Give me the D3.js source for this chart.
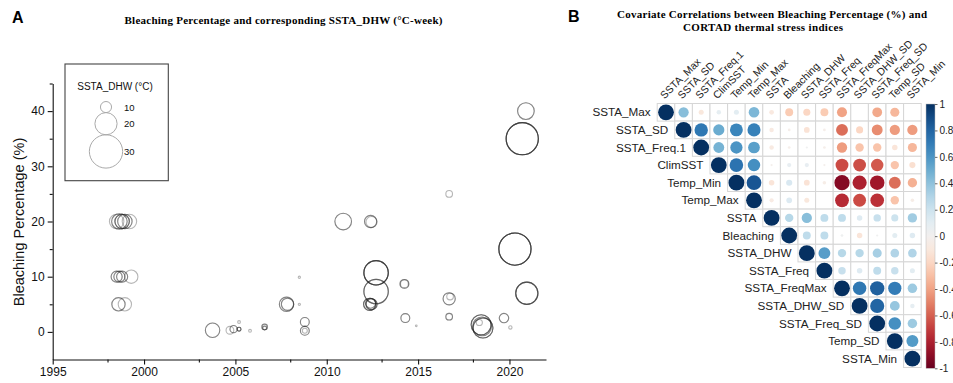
<!DOCTYPE html>
<html><head><meta charset="utf-8">
<script src="https://cdn.jsdelivr.net/npm/d3@7"></script>
<style>body{margin:0;background:#fff}svg{display:block}</style>
</head><body>
<svg id="chart" width="953" height="383"></svg>
<script>
// ---------- Panel A data ----------
const sampleYear = [1998.5,1998.65,1998.8,1998.95,1999.2, 1998.5,1998.65,1998.8,1999.3, 1998.6,1998.95,
  2003.75,2004.7,2004.9,2005.2,2005.2,2005.8,2006.6,2006.6, 2007.8,2007.85, 2008.5,2008.5, 2008.8,2008.8,2008.8,
  2010.9, 2012.4,2012.45, 2012.7,2012.7, 2012.35,2012.45,2012.4, 2014.25,2014.25,2014.3,2014.9,
  2016.7,2016.7,2016.75,2016.7, 2018.45,2018.55,2018.5,2018.35, 2019.7,2020.05, 2020.3,2020.7,2020.9,2020.95];
const bleachingPct = [20,20,20,20,20, 10,10,10,10, 5,5,
  0.3,0.3,0.5,0.5,1.8,0.2,0.9,0.7, 5,5, 9.9,5, 1.8,0.2,0.2,
  20, 20,19.9, 10.7,7.3, 5,5,5.2, 8.7,8.7,2.5,1.1,
  25,6,6.4,2.75, 1.3,0.7,1,1.7, 2.5,0.8, 15,35,40,7];
const dhwValue = [13,14,13,13,13, 10,10,10,12, 12,12,
  13,7,6.5,3.5,2.5,2.5,5,3.5, 13,11, 2,2, 8,8,4.5,
  15, 11,10, 22,22, 11,10,9, 8,7,8,1.5,
  6,11,6,6, 18,18,17,5.5, 8.5,3, 29,29,15,20];
const recordCount = [1,2,3,2,1, 2,2,2,1, 2,1,
  2,1,2,3,1,1,2,2, 2,2, 1,1, 2,2,1,
  2, 2,1, 5,3, 3,3,2, 2,1,2,1,
  1,2,1,2, 3,3,2,1, 2,1, 5,5,2,4];
const xTickValues = [1995,2000,2005,2010,2015,2020];
const xMinorTicks = [1998,2003,2008,2013,2018];
const yTickValues = [0,10,20,30,40];
const yMinorTicks = [5,15,25,35,45];
const legendValues = [10,20,30];

// ---------- Panel B data ----------
const variables = ["SSTA_Max","SSTA_SD","SSTA_Freq.1","ClimSST","Temp_Min","Temp_Max","SSTA","Bleaching",
  "SSTA_DHW","SSTA_Freq","SSTA_FreqMax","SSTA_DHW_SD","SSTA_Freq_SD","Temp_SD","SSTA_Min"];
// upper triangle, row i holds correlations with columns i+1 .. end
const corrUpper = [
  [0.42,-0.1,0.08,0.1,0.45,-0.09,-0.25,-0.2,-0.25,-0.4,0.0,-0.38,-0.33,0.0],
  [0.72,0.5,0.66,0.68,-0.08,-0.03,-0.13,-0.03,-0.56,-0.2,-0.47,-0.42,-0.42],
  [0.47,0.6,0.55,-0.08,-0.03,0.02,-0.03,-0.42,-0.28,-0.28,-0.12,-0.33],
  [0.74,0.62,-0.02,0.07,0.07,-0.02,-0.66,-0.65,-0.62,-0.28,-0.15],
  [0.86,-0.12,0.15,-0.13,-0.05,-0.92,-0.8,-0.84,-0.56,-0.35],
  [-0.07,0.13,-0.1,0.0,-0.76,-0.66,-0.74,-0.28,-0.05],
  [0.28,0.42,0.25,0.25,0.12,0.22,0.2,0.35],
  [0.25,0.25,0.03,-0.12,0.02,0.1,0.12],
  [0.56,0.28,0.28,0.33,0.3,0.3],
  [0.22,0.12,0.25,0.22,0.1],
  [0.72,0.82,0.7,0.36],
  [0.8,0.38,0.08],
  [0.62,0.36],
  [0.57]
];
const colorbarTicks = [1,0.8,0.6,0.4,0.2,0,-0.2,-0.4,-0.6,-0.8,-1];

const svg = d3.select("#chart");
const sans = "'Liberation Sans', Arial, sans-serif";
const serif = "'Liberation Serif', 'Times New Roman', serif";

// ================= Panel A =================
const x = d3.scaleLinear().domain([1995, 2022]).range([52.7, 546]);
const y = d3.scaleLinear().domain([-5, 45]).range([359.5, 83.5]);
const rSize = d3.scaleLinear().domain([0, 30]).range([0, 16.65]);

svg.append("text").attr("x", 12).attr("y", 23).attr("font-family", sans)
  .attr("font-weight", "bold").attr("font-size", 16).text("A");
svg.append("text").attr("x", 283.5).attr("y", 24).attr("text-anchor", "middle")
  .attr("font-family", serif).attr("font-weight", "bold").attr("font-size", 11)
  .attr("textLength", 318).attr("lengthAdjust", "spacing")
  .text("Bleaching Percentage and corresponding SSTA_DHW (°C-week)");

const gA = svg.append("g");
gA.append("g").attr("transform", `translate(0,${y(-5)})`)
  .call(d3.axisBottom(x).tickValues(xTickValues).tickFormat(d3.format("d")).tickSize(5).tickSizeOuter(0));
gA.append("g").attr("transform", `translate(0,${y(-5)})`)
  .call(d3.axisBottom(x).tickValues(xMinorTicks).tickFormat("").tickSize(3).tickSizeOuter(0))
  .select(".domain").remove();
gA.append("g").attr("transform", `translate(${x(1995)},0)`)
  .call(d3.axisLeft(y).tickValues(yTickValues).tickFormat(d3.format("d")).tickSize(5).tickSizeOuter(0));
gA.append("g").attr("transform", `translate(${x(1995)},0)`)
  .call(d3.axisLeft(y).tickValues(yMinorTicks).tickFormat("").tickSize(3).tickSizeOuter(0))
  .select(".domain").remove();
gA.selectAll(".tick text").attr("font-family", sans).attr("font-size", 12).attr("fill", "#111");
gA.selectAll(".domain, .tick line").attr("stroke", "#111").attr("stroke-width", 1.1);

svg.append("text").attr("transform", `translate(24,222) rotate(-90)`)
  .attr("text-anchor", "middle").attr("font-family", sans).attr("font-size", 14.5).attr("fill", "#111")
  .text("Bleaching Percentage (%)");

const recs = [];
sampleYear.forEach((yr, i) => {
  for (let k = 0; k < recordCount[i]; k++) recs.push({ year: yr, pct: bleachingPct[i], dhw: dhwValue[i] });
});
gA.append("g").selectAll("circle").data(recs).join("circle")
  .attr("cx", d => x(d.year)).attr("cy", d => y(d.pct)).attr("r", d => rSize(d.dhw))
  .attr("fill", "none").attr("stroke", "#222").attr("stroke-opacity", 0.33).attr("stroke-width", 1.1);

// legend
const lg = svg.append("g");
lg.append("rect").attr("x", 65).attr("y", 64).attr("width", 103.3).attr("height", 116.7)
  .attr("fill", "#fff").attr("stroke", "#444").attr("stroke-width", 1.1);
lg.append("text").attr("x", 115).attr("y", 90).attr("text-anchor", "middle")
  .attr("font-family", sans).attr("font-size", 10).attr("fill", "#111").text("SSTA_DHW (°C)");
let legTop = 101.5;
legendValues.forEach(v => {
  const r = rSize(v);
  const cy = legTop + r;
  lg.append("circle").attr("cx", 106).attr("cy", cy).attr("r", r)
    .attr("fill", "none").attr("stroke", "#aaa").attr("stroke-width", 1);
  lg.append("text").attr("x", 124).attr("y", cy + 3.5).attr("font-family", sans)
    .attr("font-size", 9.5).attr("fill", "#111").text(v);
  legTop = cy + r;
});

// ================= Panel B =================
svg.append("text").attr("x", 568).attr("y", 22).attr("font-family", sans)
  .attr("font-weight", "bold").attr("font-size", 16).text("B");
svg.append("text").attr("x", 772).attr("y", 18).attr("text-anchor", "middle")
  .attr("font-family", serif).attr("font-weight", "bold").attr("font-size", 11)
  .attr("textLength", 310).attr("lengthAdjust", "spacing")
  .text("Covariate Correlations between Bleaching Percentage (%) and");
svg.append("text").attr("x", 763).attr("y", 30.5).attr("text-anchor", "middle")
  .attr("font-family", serif).attr("font-weight", "bold").attr("font-size", 11)
  .attr("textLength", 160).attr("lengthAdjust", "spacing")
  .text("CORTAD thermal stress indices");

const cell = 17.6, gx = 657.2, gy = 103.5;
const n = variables.length;
const xb = d3.scaleBand().domain(variables).range([gx, gx + cell * n]);
const yb = d3.scaleBand().domain(variables).range([gy, gy + cell * n]);
const rc = d3.scaleSqrt().domain([0, 1]).range([0, cell * 0.45]);
const col = v => d3.interpolateRdBu((v + 1) / 2);

const cells = [];
variables.forEach((vi, i) => variables.forEach((vj, j) => {
  if (j >= i) cells.push({ row: vi, col: vj, r: i === j ? 1 : corrUpper[i][j - i - 1] });
}));
const gB = svg.append("g");
gB.selectAll("rect.cell").data(cells).join("rect").attr("class", "cell")
  .attr("x", d => xb(d.col)).attr("y", d => yb(d.row))
  .attr("width", xb.bandwidth()).attr("height", yb.bandwidth())
  .attr("fill", "#fff").attr("stroke", "#d6d6d6").attr("stroke-width", 1);
gB.selectAll("circle").data(cells).join("circle")
  .attr("cx", d => xb(d.col) + xb.bandwidth() / 2).attr("cy", d => yb(d.row) + yb.bandwidth() / 2)
  .attr("r", d => rc(Math.abs(d.r))).attr("fill", d => col(d.r));

gB.selectAll("text.rowlab").data(variables).join("text").attr("class", "rowlab")
  .attr("x", d => xb(d) - 6.5).attr("y", d => yb(d) + yb.bandwidth() / 2)
  .attr("dy", "0.35em").attr("text-anchor", "end")
  .attr("font-family", sans).attr("font-size", 11.7).attr("fill", "#222").text(d => d);
gB.selectAll("text.collab").data(variables).join("text").attr("class", "collab")
  .attr("transform", d => `translate(${xb(d) + xb.bandwidth() / 2 - 1.5},${gy - 4}) rotate(-45)`)
  .attr("font-family", sans).attr("font-size", 10.5).attr("fill", "#222").text(d => d);

// colorbar
const cbar = d3.scaleLinear().domain([-1, 1]).range([368.3, 104]);
const defs = svg.append("defs");
const grad = defs.append("linearGradient").attr("id", "cbg")
  .attr("x1", 0).attr("y1", 1).attr("x2", 0).attr("y2", 0);
d3.range(0, 1.0001, 0.05).forEach(t => grad.append("stop").attr("offset", t).attr("stop-color", d3.interpolateRdBu(t)));
svg.append("rect").attr("x", 926).attr("y", cbar(1)).attr("width", 9).attr("height", cbar(-1) - cbar(1))
  .attr("fill", "url(#cbg)").attr("stroke", "#bbb").attr("stroke-width", 0.5);
const cAxis = svg.append("g").attr("transform", "translate(935,0)")
  .call(d3.axisRight(cbar).tickValues(colorbarTicks).tickSize(2.5).tickPadding(2)
    .tickFormat(d => String(Math.round(d * 10) / 10)));
cAxis.select(".domain").remove();
cAxis.selectAll(".tick line").attr("stroke", "#666");
cAxis.selectAll(".tick text").attr("font-family", sans).attr("font-size", 10).attr("fill", "#222");
</script>
</body></html>
